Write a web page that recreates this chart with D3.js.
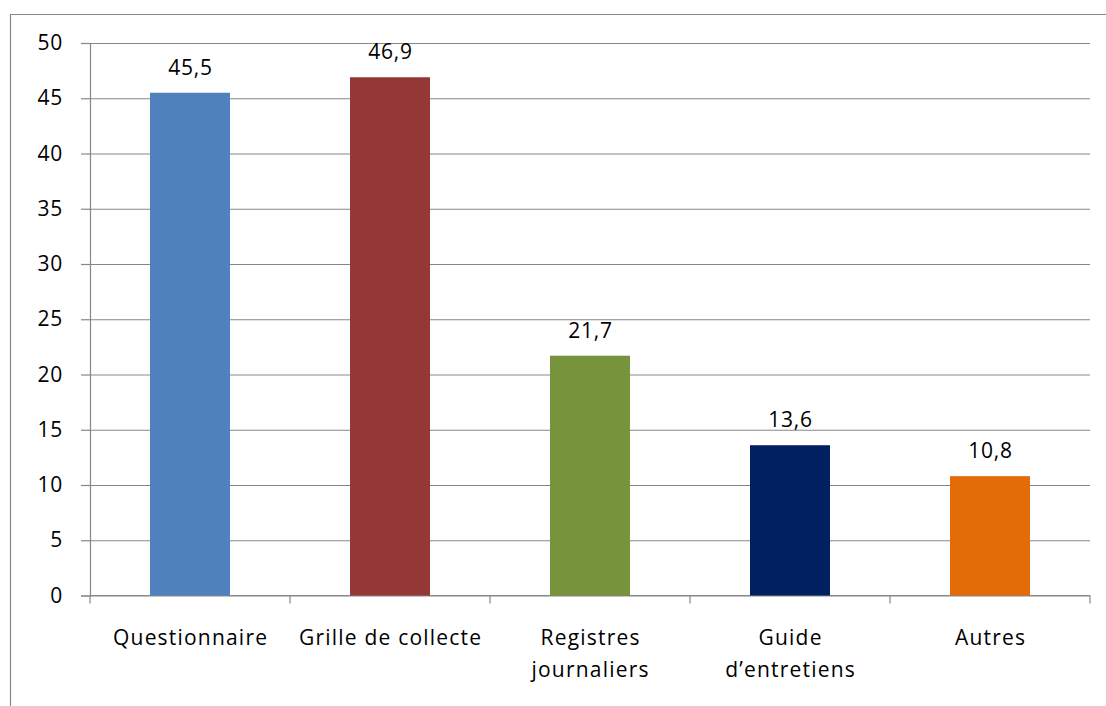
<!DOCTYPE html>
<html>
<head>
<meta charset="utf-8">
<script src="https://cdn.jsdelivr.net/npm/d3@7"></script>
<style>
  html, body { margin: 0; padding: 0; background: #fff; }
  svg text { font-family: "Open Sans", "Noto Sans", sans-serif; fill: #000; }
</style>
</head>
<body>
<svg id="chart" width="1106" height="706"></svg>
<script>
// Outils de collecte utilisés (%)
const categories = ["Questionnaire", "Grille de collecte", "Registres journaliers", "Guide d\u2019entretiens", "Autres"];
const labelLines = [["Questionnaire"], ["Grille de collecte"], ["Registres", "journaliers"], ["Guide", "d\u2019entretiens"], ["Autres"]];
const values = [45.5, 46.9, 21.7, 13.6, 10.8];
const valueLabels = ["45,5", "46,9", "21,7", "13,6", "10,8"];
const yTicks = [0, 5, 10, 15, 20, 25, 30, 35, 40, 45, 50];
const colors = ["#4F81BD", "#953735", "#77933C", "#002060", "#E36C09"];

const svg = d3.select("#chart");
const plot = { left: 90, right: 1090, top: 43, bottom: 595.5 };
const gridColor = "#878787";
const fontSize = 21;

// Cadre extérieur
svg.append("path")
  .attr("d", "M10.5,706 V14.5 H1106")
  .attr("fill", "none")
  .attr("stroke", gridColor)
  .attr("stroke-width", 1.2);

const x = d3.scaleBand()
  .domain(categories)
  .range([plot.left, plot.right])
  .paddingInner(0.6)
  .paddingOuter(0.3);

const y = d3.scaleLinear()
  .domain([0, 50])
  .range([plot.bottom, plot.top]);

// Axe vertical avec grilles horizontales
const yAxis = svg.append("g")
  .attr("transform", `translate(${plot.left},0)`)
  .call(d3.axisLeft(y).tickValues(yTicks).tickSize(9).tickPadding(18).tickFormat(d3.format("d")));
yAxis.select(".domain").attr("stroke", gridColor).attr("stroke-width", 1.2);
yAxis.selectAll(".tick line").attr("stroke", gridColor).attr("stroke-width", 1.2);
yAxis.selectAll(".tick text").style("font-size", fontSize + "px").style("letter-spacing", "0.8px").attr("fill", "#000");
yAxis.selectAll(".tick").append("line")
  .attr("x1", 0).attr("x2", plot.right - plot.left)
  .attr("stroke", gridColor).attr("stroke-width", 1.2);

// Axe horizontal : graduations entre les catégories
const step = x.step();
const boundaries = d3.range(categories.length + 1).map(i => plot.left + i * step);
svg.append("line")
  .attr("x1", plot.left).attr("x2", plot.right)
  .attr("y1", plot.bottom).attr("y2", plot.bottom)
  .attr("stroke", gridColor).attr("stroke-width", 1.2);
svg.selectAll(".xtick").data(boundaries).join("line")
  .attr("class", "xtick")
  .attr("x1", d => d).attr("x2", d => d)
  .attr("y1", plot.bottom).attr("y2", plot.bottom + 8)
  .attr("stroke", gridColor).attr("stroke-width", 1.2);

// Barres
svg.selectAll(".bar").data(values).join("rect")
  .attr("class", "bar")
  .attr("x", (d, i) => x(categories[i]))
  .attr("width", x.bandwidth())
  .attr("y", d => y(d))
  .attr("height", d => y(0) - y(d))
  .attr("fill", (d, i) => colors[i]);

// Étiquettes de valeurs
svg.selectAll(".vlabel").data(values).join("text")
  .attr("class", "vlabel")
  .attr("x", (d, i) => x(categories[i]) + x.bandwidth() / 2 + 0.5)
  .attr("y", d => y(d) - 18)
  .attr("text-anchor", "middle")
  .style("font-size", fontSize + "px")
  .style("letter-spacing", "0.8px")
  .text((d, i) => valueLabels[i]);

// Libellés des catégories
const catLabels = svg.selectAll(".clabel").data(categories).join("text")
  .attr("class", "clabel")
  .attr("text-anchor", "middle")
  .style("font-size", fontSize + "px")
  .style("letter-spacing", "1.2px");
catLabels.each(function(d, i) {
  const t = d3.select(this);
  labelLines[i].forEach((line, j) => {
    t.append("tspan")
      .attr("x", x(d) + x.bandwidth() / 2 + 0.6)
      .attr("y", 645 + j * 31.5)
      .text(line);
  });
});
</script>
</body>
</html>
